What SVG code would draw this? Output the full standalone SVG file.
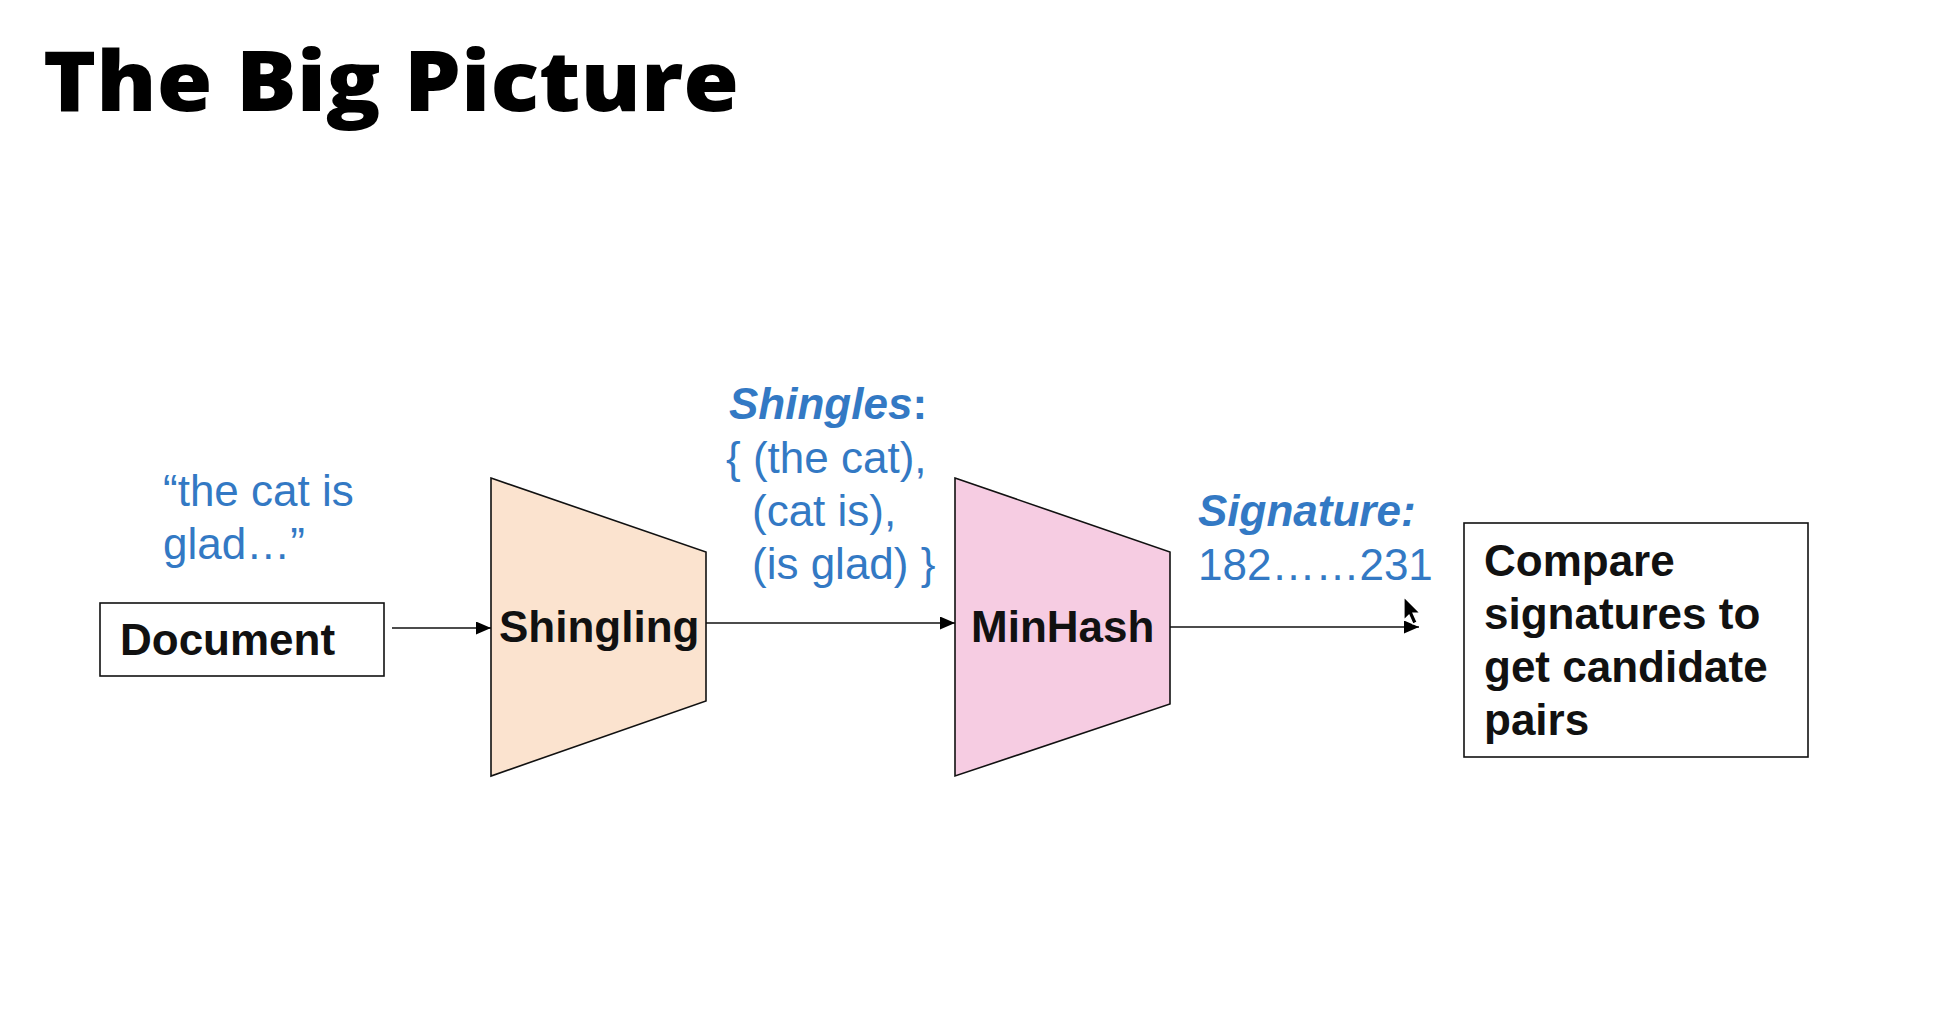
<svg xmlns="http://www.w3.org/2000/svg" width="1938" height="1016" viewBox="0 0 1938 1016">
<defs>
<marker id="ah" markerUnits="userSpaceOnUse" markerWidth="15" markerHeight="13" refX="15" refY="6.5" orient="auto">
<path d="M0,0 L15,6.5 L0,13 Z" fill="#000"/>
</marker>
<style>
.title{font-family:"Open Sans","Lato","Liberation Sans",sans-serif;font-weight:800;font-size:84px;fill:#000}
.lbl{font-family:"Liberation Sans",Arial,sans-serif;font-weight:bold;font-size:44px;fill:#111}
.blue{font-family:"Liberation Sans",Arial,sans-serif;font-size:44px;fill:#3379c4}
.bi{font-weight:bold;font-style:italic}
.box{fill:#fff;stroke:#111;stroke-width:1.6}
.trap{stroke:#111;stroke-width:1.6}
.conn{stroke:#111;stroke-width:1.6;fill:none;marker-end:url(#ah)}
</style>
</defs>
<rect width="1938" height="1016" fill="#fff"/>
<text class="title" x="43" y="111" textLength="696" lengthAdjust="spacingAndGlyphs">The Big Picture</text>

<g id="quote">
<text class="blue" x="163" y="506">“the cat is</text>
<text class="blue" x="163" y="559">glad…”</text>
</g>

<g id="document">
<rect class="box" x="100" y="603" width="284" height="73"/>
<text class="lbl" x="120" y="655">Document</text>
</g>

<g id="shingling">
<polygon class="trap" fill="#fbe3cf" points="491,478 706,552 706,701 491,776"/>
<text class="lbl" x="499" y="642">Shingling</text>
</g>

<g id="shingles-label">
<text class="blue" x="729" y="419"><tspan class="bi">Shingles</tspan><tspan font-weight="bold">:</tspan></text>
<text class="blue" x="726" y="473">{ (the cat),</text>
<text class="blue" x="752" y="526">(cat is),</text>
<text class="blue" x="752" y="579">(is glad) }</text>
</g>

<g id="minhash">
<polygon class="trap" fill="#f6cce2" points="955,478 1170,552 1170,704 955,776"/>
<text class="lbl" x="971" y="642">MinHash</text>
</g>

<g id="signature-label">
<text class="blue bi" x="1198" y="526">Signature:</text>
<text class="blue" x="1198" y="580">182……231</text>
</g>

<g id="compare">
<rect class="box" x="1464" y="523" width="344" height="234"/>
<text class="lbl" x="1484" y="576">Compare</text>
<text class="lbl" x="1484" y="629">signatures to</text>
<text class="lbl" x="1484" y="682">get candidate</text>
<text class="lbl" x="1484" y="735">pairs</text>
</g>

<g id="connectors">
<line class="conn" x1="392" y1="628" x2="491" y2="628"/>
<line class="conn" x1="706" y1="623" x2="955" y2="623"/>
<line class="conn" x1="1170" y1="627" x2="1419" y2="627"/>
</g>

<g id="cursor">
<path d="M1404,597 L1404,620 L1409,615 L1413,624 L1417,622 L1413,613 L1420,613 Z" fill="#000" stroke="#fff" stroke-width="1.2"/>
</g>
</svg>
